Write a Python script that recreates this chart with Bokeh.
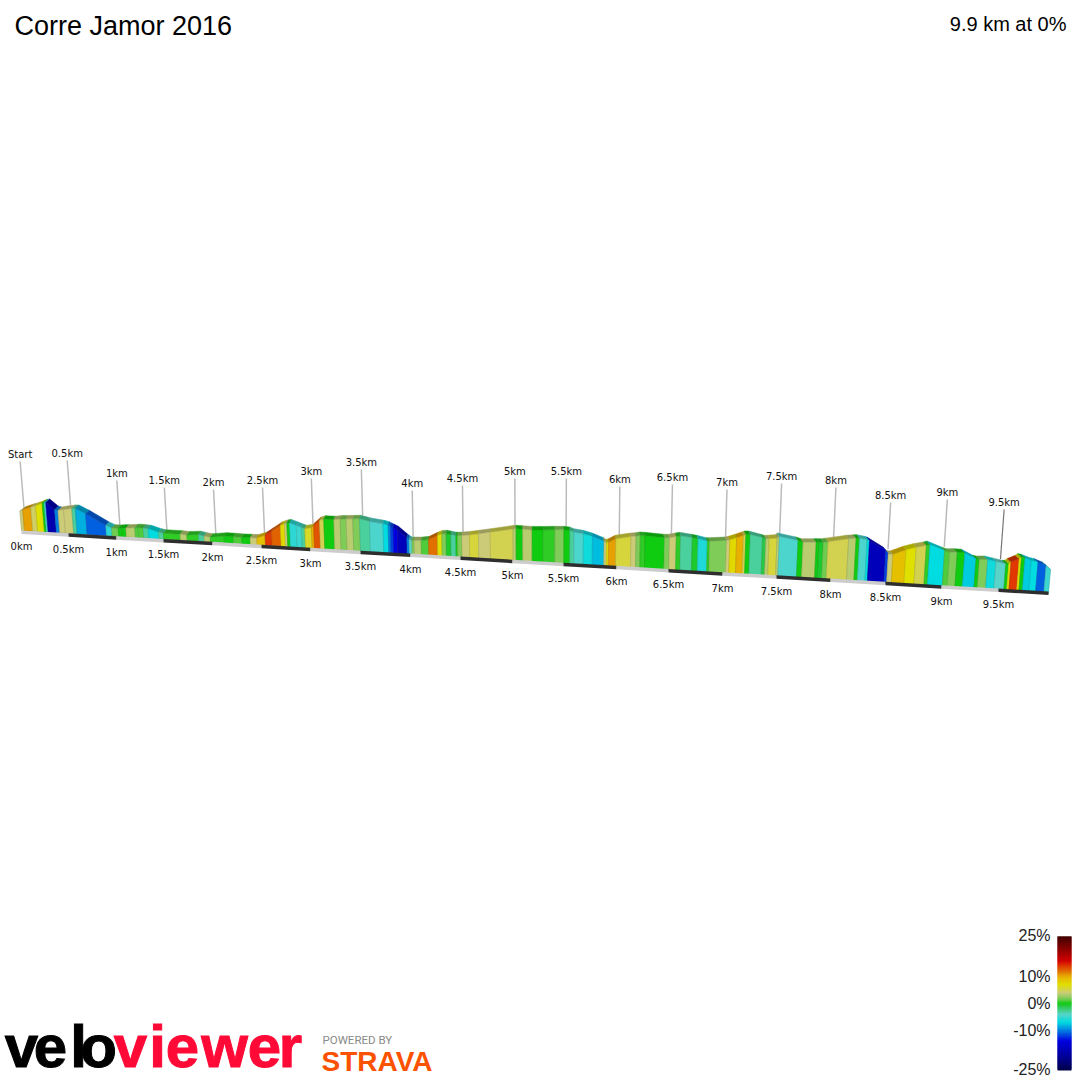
from bokeh.plotting import figure
from bokeh.models import Range1d
from bokeh.core.properties import value
from bokeh.embed import file_html
from bokeh.resources import INLINE
import numpy as np

# ---------- data ----------
title_left = "Corre Jamor 2016"
title_right = "9.9 km at 0%"

# profile: distance (km) and elevation (m) at each segment boundary, gradient (%) of each segment
seg_km = [0, 0.032, 0.120, 0.173, 0.245, 0.266, 0.284, 0.372, 0.407, 0.468, 0.555, 0.591, 0.695, 0.896, 0.955,
          1.024, 1.061, 1.106, 1.202, 1.237, 1.290, 1.344, 1.450, 1.503, 1.673, 1.742, 1.860, 1.918, 1.980,
          2.122, 2.217, 2.303, 2.388, 2.456, 2.541, 2.609, 2.701, 2.745, 2.768, 2.796, 2.864, 2.915, 2.949,
          3.017, 3.040, 3.100, 3.143, 3.243, 3.307, 3.367, 3.433, 3.500, 3.600, 3.733, 3.783, 3.807, 3.833,
          3.873, 3.967, 3.990, 4.017, 4.040, 4.110, 4.183, 4.273, 4.317, 4.360, 4.407, 4.457, 4.473, 4.516,
          4.589, 4.676, 4.788, 5.007, 5.036, 5.101, 5.193, 5.301, 5.415, 5.503, 5.559, 5.597, 5.686, 5.771,
          5.880, 5.903, 5.922, 5.991, 6.135, 6.183, 6.224, 6.269, 6.455, 6.503, 6.565, 6.605, 6.713, 6.766,
          6.852, 6.873, 7.028, 7.058, 7.120, 7.182, 7.204, 7.244, 7.358, 7.389, 7.419, 7.491, 7.512, 7.685,
          7.731, 7.852, 7.877, 7.917, 7.960, 8.145, 8.212, 8.243, 8.312, 8.334, 8.485, 8.509, 8.551, 8.664,
          8.753, 8.842, 8.873, 9.006, 9.050, 9.117, 9.182, 9.284, 9.313, 9.386, 9.459, 9.542, 9.564, 9.582,
          9.644, 9.662, 9.690, 9.742, 9.796, 9.862, 9.900]
seg_elev = [38.6, 41.8, 48, 51.4, 57.4, 58.4, 59.2, 46, 44.6, 47.4, 50.4, 50.8, 41.4, 20.4, 15.8,
            16, 17, 17.6, 19.4, 20, 19.6, 19, 13.4, 12, 12, 11.4, 13.4, 11, 9.8,
            13.4, 13.4, 13, 13.4, 14, 20, 29.4, 42, 45.8, 47.2, 47.8, 43.8, 40.4, 38.2,
            41, 45.4, 56.6, 59.8, 60, 62, 63, 64, 65, 60.8, 57.8, 55.6, 53.4, 51,
            47.6, 32.6, 29.6, 28, 28, 28.8, 31.2, 40.8, 44.8, 45.4, 44.4, 43, 43, 43.8,
            46.2, 49.4, 54, 63.4, 64, 63.8, 63.8, 65, 66.8, 67.8, 67.2, 64.4, 62.2, 58,
            50, 47, 48, 56.2, 62.6, 63.8, 65.8, 65.8, 64.2, 64.8, 68, 70, 67.6, 66.2,
            62.6, 62.8, 66.2, 68.2, 73, 78.4, 80.6, 81.2, 76, 74.4, 75, 77, 80.8, 75,
            72.2, 73.8, 74.2, 74.4, 76.4, 84.4, 86.6, 87, 84.8, 83.6, 65.8, 59.4, 58.6, 69.6,
            76, 80.6, 83, 72.8, 70, 71, 70.8, 60.2, 59.2, 60.2, 57.2, 53.8, 54.2, 57.8,
            65.4, 69, 68.2, 63.6, 61, 55.4, 48]
seg_grade = [4, 10.5, 4.5, 7, 0, -5, -18, -10, 4, 4, -3, -8.5, -11, -5.5,
             1.5, 0, 0, 3.5, 1, 1, -3, -7, -3, 0.5, 3.5, 0.5, -3, 3.5,
             0.5, 0, 1, 0, 4, 9, 14, 12.5, 7.5, 4, 0, -5.5, -5, -3,
             6, 10, 13, 5, 0, 3.5, 2, 3.5, 2, -3, -4.5, -7, -10, -12,
             -14, -17, -10, -4, 2, 3.5, 1, 12, 7, 2, -0.5, -3, 0, 2,
             4, 5.5, 4, 5, 3.5, 0, 3.5, 0, 0.5, 2, 0, -3, -4.5, -6.5,
             -8, 4, 7, 10.5, 5.5, 4, 2, 0.5, 0, 2, 4, 0.5, -3, -0.5,
             -6, 0.5, 2, 4, 7.5, 10, 5, 0, -3, -1, 3.5, 5.5, 3.5, -4.5,
             0, 3.5, 0, -0.5, 1.5, 5, 3.5, 0, -4.5, -7, -17, -12, 4, 9,
             7, 5, 0.5, -7, 1, 2, 0, -7.5, 0, 2, -6.5, -4, 0, 7,
             14, 7, 0, -7.5, -7, -11, -5]

tick_km = [0, 0.5, 1, 1.5, 2, 2.5, 3, 3.5, 4, 4.5, 5, 5.5, 6, 6.5, 7, 7.5, 8, 8.5, 9, 9.5, 9.9]
marker_labels_top = ["Start", "0.5km", "1km", "1.5km", "2km", "2.5km", "3km", "3.5km", "4km", "4.5km", "5km",
                     "5.5km", "6km", "6.5km", "7km", "7.5km", "8km", "8.5km", "9km", "9.5km"]
marker_labels_bottom = ["0km", "0.5km", "1km", "1.5km", "2km", "2.5km", "3km", "3.5km", "4km", "4.5km", "5km",
                        "5.5km", "6km", "6.5km", "7km", "7.5km", "8km", "8.5km", "9km", "9.5km"]

legend_grades = [25, 10, 0, -10, -25]
legend_labels = ["25%", "10%", "0%", "-10%", "-25%"]

# colour scale of the gradient
scale_grade = [-25, -20, -14, -10, -7, -4, -1, 0, 1.5, 4, 7, 10, 12, 14, 16, 20, 25]
scale_rgb = [(0, 0, 70), (0, 0, 150), (0, 0, 224), (0, 128, 224), (0, 220, 224), (90, 212, 200), (40, 200, 70),
             (16, 204, 16), (110, 204, 80), (204, 204, 120), (224, 224, 0), (232, 176, 0), (224, 112, 0),
             (224, 56, 0), (208, 0, 0), (144, 0, 0), (64, 0, 0)]

# ---------- layout of the drawing ----------
tick_x = [21, 68, 116, 163, 212, 261, 310, 360, 410, 460, 512, 563, 616, 668, 722, 776, 830, 885, 941, 998, 1048]
marker_label_y = [454, 453, 473, 480, 482, 480, 471, 462, 483, 478, 471, 471, 479, 477, 482, 476, 480, 495, 492, 502]
PX_PER_M = 0.5
VANISH_X = 540


def gcol(g, f=1.0):
    r = np.interp(g, scale_grade, [c[0] for c in scale_rgb]) * f
    gg = np.interp(g, scale_grade, [c[1] for c in scale_rgb]) * f
    b = np.interp(g, scale_grade, [c[2] for c in scale_rgb]) * f
    return "#%02x%02x%02x" % (int(r), int(gg), int(b))


def px(km):
    return np.interp(km, tick_km, tick_x)


def wall_y(x):
    return 530 + 0.0613 * (np.asarray(x) - 21)


def strip_y(x):
    return 530 + 0.0594 * (np.asarray(x) - 21)


def top_xy(km, elev):
    x = px(km)
    h = np.asarray(elev) * PX_PER_M
    return x + (x - VANISH_X) * 1.7e-4 * h, wall_y(x) - h


def back_xy(km, elev):
    x, y = top_xy(km, elev)
    return x - (x - VANISH_X) * 0.008, y - 3.5


km = np.array(seg_km)
el = np.array(seg_elev)
xb = px(km)
yb = wall_y(xb)
xt, yt = top_xy(km, el)
xr, yr = back_xy(km, el)
n = len(seg_grade)

wall_xs = [[xb[i], xb[i + 1], xt[i + 1], xt[i]] for i in range(n)]
wall_ys = [[yb[i], yb[i + 1], yt[i + 1], yt[i]] for i in range(n)]
lid_xs = [[xt[i], xt[i + 1], xr[i + 1], xr[i]] for i in range(n)]
lid_ys = [[yt[i], yt[i + 1], yr[i + 1], yr[i]] for i in range(n)]
wall_col = [gcol(g) for g in seg_grade]
edge_col = [gcol(g, 0.82) for g in seg_grade]
lid_col = [gcol(g, 0.76) for g in seg_grade]

p = figure(width=1080, height=1080, x_range=Range1d(0, 1080), y_range=Range1d(1080, 0),
           output_backend="svg", toolbar_location=None, min_border=0, outline_line_color=None,
           background_fill_color="white", border_fill_color="white")
p.axis.visible = False
p.grid.visible = False

# leader lines
tk = np.array(tick_km[:20])
lx0, ly0 = back_xy(tk, np.interp(tk, km, el))
lx0 = lx0 + np.minimum(0.005 * (lx0 - 21), 3.5)
lead_len = ly0 - np.array(marker_label_y) - 7
lx1 = lx0 + (lx0 - VANISH_X) * 1.6e-4 * lead_len
ly1 = np.array(marker_label_y) + 7.0
lead_col = ["#bbbbbb"] * 19 + ["#777777"]
lead_w = [1.5] * 19 + [1.2]
p.segment(lx0, ly0, lx1, ly1, line_color=lead_col, line_width=lead_w)

# top face, then front wall
p.patches(lid_xs, lid_ys, fill_color=lid_col, line_color=lid_col, line_width=0.5)
p.patches(wall_xs, wall_ys, fill_color=wall_col, line_color=edge_col, line_width=0.7, line_alpha=0.8)

# distance strip
bar_x0 = px(np.array(tick_km[:-1]))
bar_x1 = px(np.array(tick_km[1:]))
bar_xs = [[a, b, b, a] for a, b in zip(bar_x0, bar_x1)]
bar_ys = [[strip_y(a), strip_y(b), strip_y(b) + 3.5, strip_y(a) + 3.5] for a, b in zip(bar_x0, bar_x1)]
bar_col = ["#cccccc" if i % 2 == 0 else "#2e2e2e" for i in range(len(bar_xs))]
p.patches(bar_xs, bar_ys, fill_color=bar_col, line_color=None)

lab_font = value("DejaVu Sans")
p.text(lx1, ly1 - 7, text=marker_labels_top, text_font=lab_font, text_font_size="10px",
       text_align="center", text_baseline="middle", text_color="#111111")
p.text(bar_x0, strip_y(bar_x0) + 16, text=marker_labels_bottom, text_font=lab_font, text_font_size="10px",
       text_align="center", text_baseline="middle", text_color="#111111")

# titles
sans = value("Liberation Sans")
p.text([14], [25], text=[title_left], text_font=sans, text_font_size="27px", text_baseline="middle", text_color="#000000")
p.text([1066], [23], text=[title_right], text_font=sans, text_font_size="20px", text_align="right",
       text_baseline="middle", text_color="#000000")

# colour legend
cb_g = np.arange(-25, 25, 0.5)
cb_y = lambda g: 1003 - np.asarray(g) * 2.68
p.quad(left=1057, right=1071, bottom=cb_y(cb_g), top=cb_y(np.minimum(cb_g + 1.0, 25)),
       fill_color=[gcol(g + 0.25) for g in cb_g], line_color=None)
p.text(1050, [935, 976, 1003, 1030, 1069], text=legend_labels, text_font=sans, text_font_size="16px",
       text_align="right", text_baseline="middle", text_color="#222222")

# logo
logo_letters = list("veloviewer")
logo_x = [21, 50, 78, 98, 130, 157, 182, 224, 264, 290]
logo_col = ["#000000"] * 4 + ["#ff0a37"] * 6
p.text(logo_x, [1046] * 10, text=logo_letters, text_font=sans, text_font_style="bold", text_font_size="60px",
       text_align="center", text_baseline="middle", text_color=logo_col, text_outline_color=logo_col)
p.text([322], [1039], text=["POWERED BY"], text_font=value("Roboto"), text_font_size="11.5px",
       text_baseline="middle", text_color="#8a8a8a")
p.text([321], [1061], text=["STRAVA"], text_font=sans, text_font_style="bold", text_font_size="28px",
       text_baseline="middle", text_color="#fc5200")

open("out.html", "w").write(file_html(p, INLINE))
